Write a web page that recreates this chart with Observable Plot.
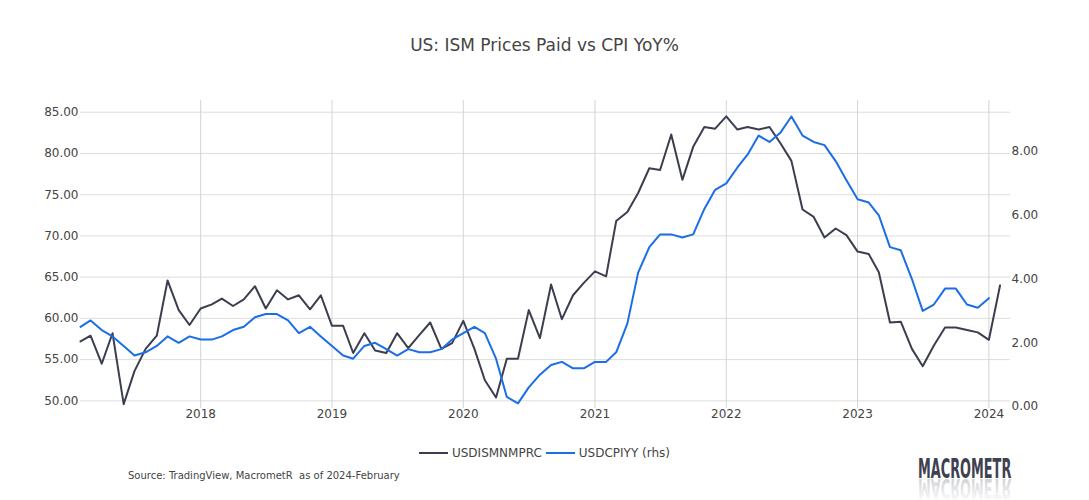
<!DOCTYPE html>
<html>
<head>
<meta charset="utf-8">
<script src="https://cdn.jsdelivr.net/npm/d3@7"></script>
<script src="https://cdn.jsdelivr.net/npm/@observablehq/plot@0.6"></script>
<style>
  body { margin: 0; background: #fff; font-family: "DejaVu Sans", Verdana, sans-serif; color: #444; }
  #wrap { position: relative; width: 1089px; height: 500px; overflow: hidden; }
  #title { position: absolute; top: 34px; left: 0; width: 1089px; text-align: center; font-size: 17px; line-height: 22px; color: #444; }
  #chart { position: absolute; top: 80px; left: 0; }
  #legend { position: absolute; top: 444px; left: 0; width: 1089px; display: flex; justify-content: center; align-items: center; font-size: 12px; line-height: 18px; color: #444; }
  #legend .item { display: flex; align-items: center; margin: 0 2px; }
  #legend .swatch { width: 29px; height: 2px; margin-right: 4px; }
  #source { position: absolute; top: 470px; left: 128px; font-size: 10px; line-height: 12px; color: #444; white-space: pre; }
  #logo { position: absolute; left: 906px; top: 452px; }
</style>
</head>
<body>
<div id="wrap">
  <div id="title">US: ISM Prices Paid vs CPI YoY%</div>
  <div id="chart"></div>
  <div id="legend"></div>
  <div id="source">Source: TradingView, MacrometR  as of 2024-February</div>
  <svg id="logo" width="120" height="48">
    <defs>
      <linearGradient id="fade" x1="0" y1="0" x2="0" y2="1">
        <stop offset="0" stop-color="#3d4150" stop-opacity="0"/>
        <stop offset="1" stop-color="#3d4150" stop-opacity="0.3"/>
      </linearGradient>
      <text id="logoWord" x="0" y="0" font-family="DejaVu Sans Condensed" font-weight="bold" font-size="14.3">MACROMETR</text>
    </defs>
    <text transform="translate(12,26) scale(1,1.8)" x="0" y="0" font-family="DejaVu Sans Condensed" font-weight="bold" font-size="14.3" fill="#3d4150">MACROMETR</text>
    <use href="#logoWord" transform="translate(12,27) scale(1,-1.8)" fill="url(#fade)"/>
  </svg>
</div>
<script>
// First month of both series; one value per month from here on.
const startMonth = "2017-02-01";

// ISM Services Prices Paid index (left axis)
const ismPricesPaid = [
  57.2, 57.9, 54.5, 58.2, 49.6, 53.6, 56.3, 57.9, 64.6, 61.0, 59.2,
  61.2, 61.7, 62.4, 61.5, 62.3, 63.9, 61.2, 63.4, 62.3, 62.8, 61.1, 62.8,
  59.1, 59.1, 55.8, 58.2, 56.1, 55.8, 58.2, 56.4, 58.0, 59.5, 56.3, 57.0,
  59.7, 56.3, 52.5, 50.4, 55.1, 55.1, 61.0, 57.6, 64.1, 59.9, 62.8, 64.3,
  65.7, 65.1, 71.8, 72.9, 75.2, 78.2, 78.0, 82.3, 76.8, 80.8, 83.2, 83.0,
  84.5, 82.9, 83.2, 82.9, 83.2, 81.2, 79.1, 73.2, 72.3, 69.8, 70.9, 70.1,
  68.1, 67.8, 65.6, 59.5, 59.6, 56.3, 54.2, 56.7, 58.9, 58.9, 58.6, 58.3,
  57.4, 64.0
];

// US CPI YoY % (right axis)
const cpiYoY = [
  2.5, 2.7, 2.4, 2.2, 1.9, 1.6, 1.7, 1.9, 2.2, 2.0, 2.2,
  2.1, 2.1, 2.2, 2.4, 2.5, 2.8, 2.9, 2.9, 2.7, 2.3, 2.5, 2.2,
  1.9, 1.6, 1.5, 1.9, 2.0, 1.8, 1.6, 1.8, 1.7, 1.7, 1.8, 2.1,
  2.3, 2.5, 2.3, 1.5, 0.3, 0.1, 0.6, 1.0, 1.3, 1.4, 1.2, 1.2,
  1.4, 1.4, 1.7, 2.6, 4.2, 5.0, 5.4, 5.4, 5.3, 5.4, 6.2, 6.8,
  7.0, 7.5, 7.9, 8.5, 8.3, 8.6, 9.1, 8.5, 8.3, 8.2, 7.7, 7.1,
  6.5, 6.4, 6.0, 5.0, 4.9, 4.0, 3.0, 3.2, 3.7, 3.7, 3.2, 3.1,
  3.4
];

// Axis ticks
const leftTicks = [50, 55, 60, 65, 70, 75, 80, 85];
const rightTicks = [0, 2, 4, 6, 8];
const yearTicks = ["2018", "2019", "2020", "2021", "2022", "2023", "2024"];

// Series names and colours
const seriesNames = ["USDISMNMPRC", "USDCPIYY (rhs)"];
const seriesColors = ["#3b3e4f", "#1b6ee6"];

// Right-axis values are drawn on the left scale through a linear map.
const rhsOffset = 49.31, rhsFactor = 3.8655;
const toLeft = (v) => rhsOffset + rhsFactor * v;
const fromLeft = (v) => (v - rhsOffset) / rhsFactor;

const start = new Date(startMonth);
const ismRows = ismPricesPaid.map((value, i) => ({date: d3.utcMonth.offset(start, i), value}));
const cpiRows = cpiYoY.map((value, i) => ({date: d3.utcMonth.offset(start, i), value}));
const yearDates = yearTicks.map((y) => new Date(`${y}-01-01`));

const chart = Plot.plot({
  width: 1089,
  height: 360,
  marginTop: 20,
  marginBottom: 32,
  marginLeft: 80,
  marginRight: 79,
  style: {fontFamily: "DejaVu Sans, Verdana, sans-serif", fontSize: "12px", color: "#444", background: "white"},
  x: {type: "utc", domain: [start, new Date("2024-03-01")]},
  y: {domain: [49.07, 86.42]},
  marks: [
    Plot.gridY(leftTicks, {stroke: "#dddddd", strokeOpacity: 1}),
    Plot.gridX(yearDates, {stroke: "#d4d4d4", strokeOpacity: 1}),
    Plot.axisX(yearDates, {tickFormat: d3.utcFormat("%Y"), tickSize: 0, tickPadding: 1, fill: "#444", label: null}),
    Plot.axisY(leftTicks, {tickFormat: (d) => d.toFixed(2), tickSize: 0, tickPadding: 2, fill: "#444", label: null}),
    Plot.axisY(rightTicks.map(toLeft), {anchor: "right", tickFormat: (v) => fromLeft(v).toFixed(2), tickSize: 0, tickPadding: 1, fill: "#444", label: null}),
    Plot.line(ismRows, {x: "date", y: "value", stroke: seriesColors[0], strokeWidth: 2}),
    Plot.line(cpiRows, {x: "date", y: (d) => toLeft(d.value), stroke: seriesColors[1], strokeWidth: 2})
  ]
});
document.getElementById("chart").appendChild(chart);

// Legend below the chart
const legend = document.getElementById("legend");
seriesNames.forEach((name, i) => {
  const item = document.createElement("div");
  item.className = "item";
  const sw = document.createElement("span");
  sw.className = "swatch";
  sw.style.background = seriesColors[i];
  const label = document.createElement("span");
  label.textContent = name;
  item.appendChild(sw);
  item.appendChild(label);
  legend.appendChild(item);
});
</script>
</body>
</html>
